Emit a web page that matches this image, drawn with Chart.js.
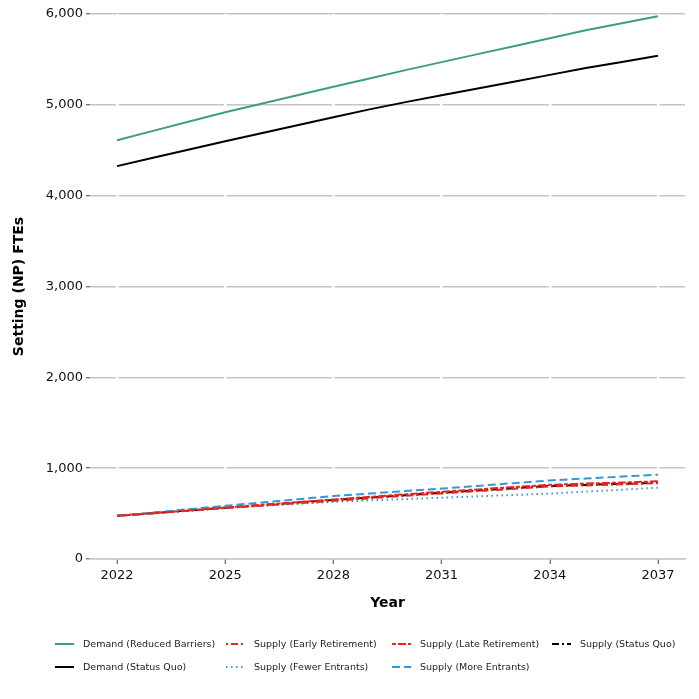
<!DOCTYPE html>
<html>
<head>
<meta charset="utf-8">
<script src="https://cdn.jsdelivr.net/npm/chart.js@4.4.1/dist/chart.umd.min.js"></script>
<style>
  html, body { margin: 0; padding: 0; background: #fff; }
  #wrap { position: relative; width: 699px; height: 699px; }
  #c { position: absolute; left: 0; top: 0; }
  .lg { position: absolute; font-family: "DejaVu Sans", sans-serif; font-size: 9.5px; color: #222; white-space: nowrap; }
  .lg svg { position: absolute; left: 0; top: 0; }
  .lg span { position: absolute; left: 28px; top: -6px; line-height: 12px; }
</style>
</head>
<body>
<div id="wrap">
  <canvas id="c" width="699" height="699"></canvas>
</div>
<script>
const years = [2022,2023,2024,2025,2026,2027,2028,2029,2030,2031,2032,2033,2034,2035,2036,2037];
const xTicks = [2022,2025,2028,2031,2034,2037];
const yTicks = [0,1000,2000,3000,4000,5000,6000];

const demandReducedBarriers = [4610,4713,4816,4918,5012,5105,5198,5290,5382,5470,5558,5646,5733,5820,5898,5975];
const demandStatusQuo       = [4325,4417,4509,4600,4688,4776,4864,4950,5030,5105,5180,5255,5330,5405,5472,5540];
const supplyEarlyRetirement = [475,503,532,560,587,613,640,668,695,722,748,773,798,810,822,835];
const supplyLateRetirement  = [475,505,535,566,596,626,655,684,712,740,766,792,817,830,842,855];
const supplyStatusQuo       = [475,505,535,565,593,622,650,677,703,730,755,780,804,816,828,840];
const supplyFewerEntrants   = [475,505,534,562,585,607,628,645,660,675,690,705,720,742,763,785];
const supplyMoreEntrants    = [475,512,549,585,621,657,693,720,748,775,805,835,865,886,907,928];

const seriesDefs = [
  { label: 'Demand (Reduced Barriers)', data: demandReducedBarriers, color: '#3f9f7b', dash: [] },
  { label: 'Demand (Status Quo)',       data: demandStatusQuo,       color: '#000000', dash: [] },
  { label: 'Supply (Early Retirement)', data: supplyEarlyRetirement, color: '#e8231d', dash: [2,3,7,3] },
  { label: 'Supply (Fewer Entrants)',   data: supplyFewerEntrants,   color: '#3b9bd0', dash: [1.5,3.5] },
  { label: 'Supply (Late Retirement)',  data: supplyLateRetirement,  color: '#e8231d', dash: [4,2,8,2] },
  { label: 'Supply (More Entrants)',    data: supplyMoreEntrants,    color: '#3398d6', dash: [8,4] },
  { label: 'Supply (Status Quo)',       data: supplyStatusQuo,       color: '#000000', dash: [7,3,2,3] }
];

const datasets = seriesDefs.map(s => ({
  label: s.label,
  data: years.map((y, i) => ({ x: y, y: s.data[i] })),
  borderColor: s.color,
  borderDash: s.dash,
  borderWidth: 2,
  pointRadius: 0,
  fill: false,
  tension: 0
}));

new Chart(document.getElementById('c'), {
  type: 'line',
  data: { datasets },
  options: {
    responsive: false,
    animation: false,
    layout: { padding: { left: 0, right: 14, top: 14, bottom: 80 } },
    plugins: { legend: { display: false }, tooltip: { enabled: false } },
    scales: {
      x: {
        type: 'linear',
        min: 2021.25,
        max: 2037.75,
        afterBuildTicks: (scale) => { scale.ticks = xTicks.map(v => ({ value: v })); },
        afterFit: (scale) => { scale.height = 60; },
        grid: { z: -1, color: '#ffffff', lineWidth: 2.5, tickColor: '#444', tickWidth: 1, tickLength: 5, drawOnChartArea: true },
        border: { display: true, color: '#c8c8c8', width: 1.5 },
        ticks: { padding: 4, color: '#111', font: { family: 'DejaVu Sans', size: 13 }, callback: (v) => String(v), maxRotation: 0, autoSkip: false },
        title: { display: true, text: 'Year', color: '#000', font: { family: 'DejaVu Sans', size: 14, weight: 'bold' }, padding: { top: 0, bottom: 7 } }
      },
      y: {
        min: 0,
        max: 6000,
        afterBuildTicks: (scale) => { scale.ticks = yTicks.map(v => ({ value: v })); },
        afterFit: (scale) => { scale.width = 90; },
        grid: { z: -2, color: '#c4c4c4', lineWidth: 1.5, tickColor: '#444', tickWidth: 1, tickLength: 4 },
        border: { display: false },
        ticks: { padding: 3, color: '#111', font: { family: 'DejaVu Sans', size: 13 }, callback: (v) => v.toLocaleString('en-US') },
        title: { display: true, text: 'Setting (NP) FTEs', color: '#000', font: { family: 'DejaVu Sans', size: 14, weight: 'bold' }, padding: { top: 11, bottom: 0 } }
      }
    }
  }
});

// legend (column-major like the reference)
const legendPos = [
  [55, 644], [55, 667], [226, 644], [226, 667], [392, 644], [392, 667], [552, 644]
];
const wrap = document.getElementById('wrap');
seriesDefs.forEach((s, i) => {
  const d = document.createElement('div');
  d.className = 'lg';
  d.style.left = legendPos[i][0] + 'px';
  d.style.top = legendPos[i][1] + 'px';
  const svgNS = 'http://www.w3.org/2000/svg';
  const svg = document.createElementNS(svgNS, 'svg');
  svg.setAttribute('width', '20'); svg.setAttribute('height', '4');
  svg.style.top = '-2px';
  const ln = document.createElementNS(svgNS, 'line');
  ln.setAttribute('x1', '0'); ln.setAttribute('y1', '2'); ln.setAttribute('x2', '19'); ln.setAttribute('y2', '2');
  ln.setAttribute('stroke', s.color); ln.setAttribute('stroke-width', '2');
  if (s.dash.length) ln.setAttribute('stroke-dasharray', s.dash.join(' '));
  svg.appendChild(ln);
  d.appendChild(svg);
  const sp = document.createElement('span');
  sp.textContent = s.label;
  d.appendChild(sp);
  wrap.appendChild(d);
});
</script>
</body>
</html>
